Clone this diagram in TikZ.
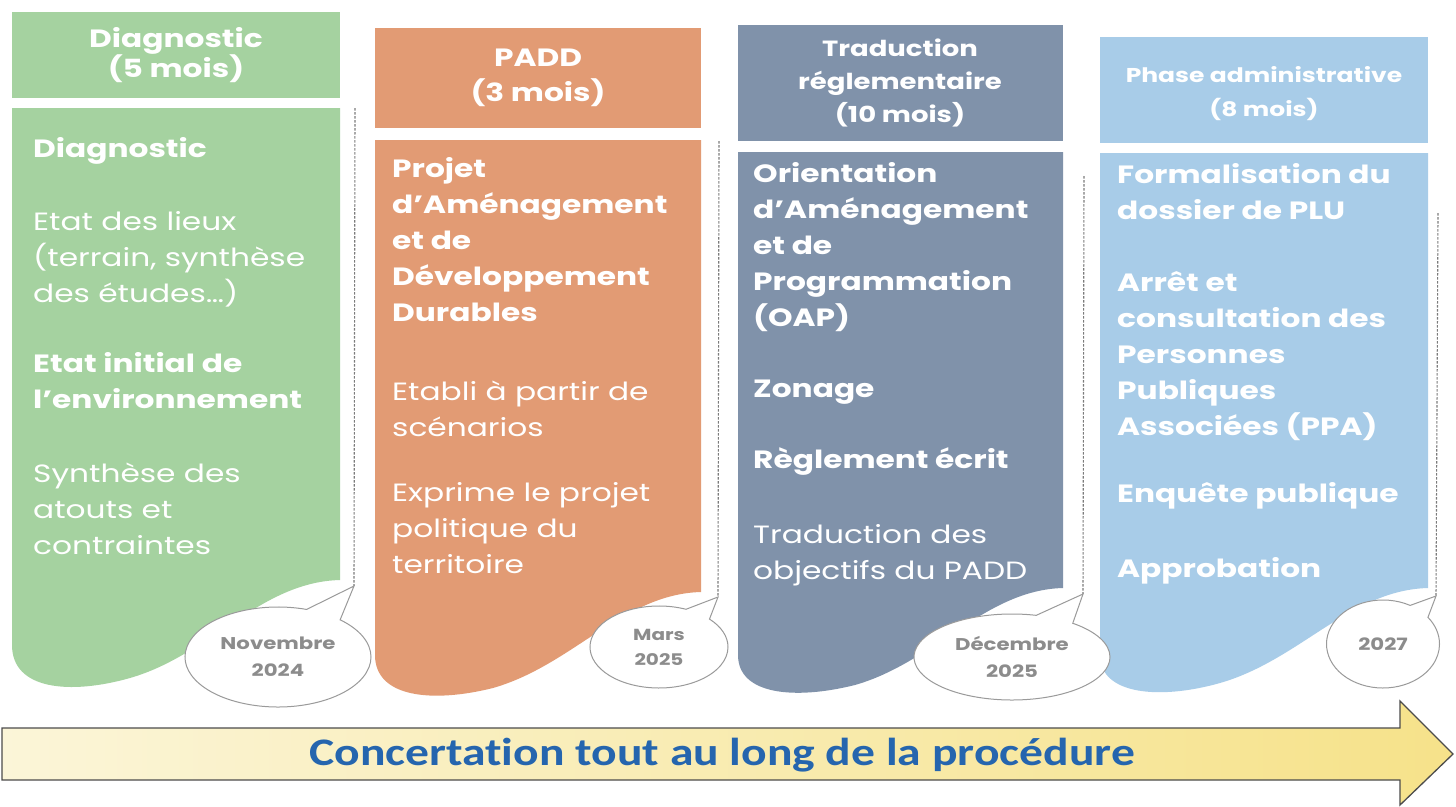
\documentclass[tikz,border=0pt]{standalone}
\usepackage{fontspec}
\setmainfont{Poppins}[FakeStretch=1.25]
\newfontfamily\arrowfont{Carlito}[FakeStretch=1.22, Ligatures=CommonOff]
\usetikzlibrary{shapes.callouts}

\definecolor{diagc}{HTML}{A5D2A0}
\definecolor{paddc}{HTML}{E29B74}
\definecolor{tradc}{HTML}{8092AA}
\definecolor{admc}{HTML}{A8CCE8}
\definecolor{datec}{HTML}{8C8C8C}
\definecolor{linec}{HTML}{9A9A9A}
\definecolor{concc}{HTML}{2565AE}
\definecolor{arrowl}{HTML}{FBF5D8}
\definecolor{arrowr}{HTML}{F6E28A}

\tikzset{
  hdr/.style={text=white, align=center, inner sep=0pt},
  item/.style={text=white, anchor=base west, align=left, inner sep=0pt,
    font=\fontsize{25}{36}\selectfont},
  itemb/.style={item, font=\fontsize{25}{36}\selectfont\bfseries},
  bubble/.style={ellipse callout, draw=linec, line width=1pt, fill=white,
    text=datec, align=center, inner sep=0pt, callout pointer arc=24,
    font=\fontsize{17}{27}\selectfont\bfseries},
  guide/.style={draw=linec!80!black, line width=1.1pt, dash pattern=on 2.5pt off 1.5pt}
}

\begin{document}
\begin{tikzpicture}[x=1pt,y=-1pt]
\useasboundingbox (0,0) rectangle (1456,806);
\fill[white] (0,0) rectangle (1456,806);

% column bodies
\fill[diagc] (12,108) -- (340,108) -- (340,580) .. controls (260,582) and (210,655) .. (130,678) .. controls (70,695) and (12,690) .. (12,645) -- cycle;
\fill[paddc] (375,140) -- (701,140) -- (701,592) .. controls (623,594) and (573,665) .. (493,688) .. controls (433,703) and (375,698) .. (375,655) -- cycle;
\fill[tradc] (738,152) -- (1063,152) -- (1063,588) .. controls (985,590) and (935,662) .. (855,685) .. controls (795,700) and (738,695) .. (738,655) -- cycle;
\fill[admc] (1100,153) -- (1428,153) -- (1428,588) .. controls (1350,590) and (1300,660) .. (1220,683) .. controls (1160,700) and (1100,695) .. (1100,655) -- cycle;

% headers
\node[hdr, fill=diagc, minimum width=328pt, minimum height=86pt, font=\fontsize{25}{29}\selectfont\bfseries] (hdiag) at (176,55) {Diagnostic\\(5 mois)};
\node[hdr, fill=paddc, minimum width=326pt, minimum height=100pt, font=\fontsize{25}{35}\selectfont\bfseries] (hpadd) at (538,78) {PADD\\(3 mois)};
\node[hdr, fill=tradc, minimum width=325pt, minimum height=116pt, font=\fontsize{22}{33}\selectfont\bfseries] (htrad) at (900,83) {Traduction\\réglementaire\\(10 mois)};
\node[hdr, fill=admc, minimum width=328pt, minimum height=106pt] (hadm) at (1264,90) {};
\node[hdr, font=\fontsize{20}{34}\selectfont\bfseries] (hadmt) at (1264,94) {Phase administrative\\(8 mois)};

% Diagnostic (y = baseline of the last line)
\node[itemb] (diag1) at (33,157) {Diagnostic};
\node[item] (diag2) at (33,302) {Etat des lieux\\(terrain, synthèse\\des études…)};
\node[itemb] (diag3) at (33,408) {Etat initial de\\l’environnement};
\node[item] (diag4) at (33,554) {Synthèse des\\atouts et\\contraintes};

% PADD
\node[itemb] (padd1) at (392,321) {Projet\\d’Aménagement\\et de\\Développement\\Durables};
\node[item] (padd2) at (392,436) {Etabli à partir de\\scénarios};
\node[item] (padd3) at (392,573) {Exprime le projet\\politique du\\territoire};

% Traduction reglementaire
\node[itemb] (trad1) at (753,326) {Orientation\\d’Aménagement\\et de\\Programmation\\(OAP)};
\node[itemb] (trad2) at (753,397) {Zonage};
\node[itemb] (trad3) at (753,468) {Règlement écrit};
\node[item] (trad4) at (753,579) {Traduction des\\objectifs du PADD};

% Phase administrative
\node[itemb] (adm1) at (1117,219) {Formalisation du\\dossier de PLU};
\node[itemb] (adm2) at (1117,435) {Arrêt et\\consultation des\\Personnes\\Publiques\\Associées (PPA)};
\node[itemb] (adm3) at (1117,502) {Enquête publique};
\node[itemb] (adm4) at (1117,577) {Approbation};

% dotted guides and date bubbles
\coordinate (g1top) at (355,108);
\coordinate (g1bot) at (354,586);
\coordinate (g2top) at (719,141);
\coordinate (g2bot) at (718,597);
\coordinate (g3top) at (1084,176);
\coordinate (g3bot) at (1083,594);
\coordinate (g4top) at (1438,213);
\coordinate (g4bot) at (1436,596);
\draw[guide] (g1top) -- (g1bot);
\draw[guide] (g2top) -- (g2bot);
\draw[guide] (g3top) -- (g3bot);
\draw[guide] (g4top) -- (g4bot);

\node[bubble, minimum width=186pt, minimum height=100pt, callout absolute pointer={(g1bot)}] (bnov) at (278,657) {Novembre\\2024};
\node[bubble, minimum width=138pt, minimum height=82pt, callout absolute pointer={(g2bot)}, font=\fontsize{16}{25}\selectfont\bfseries] (bmars) at (659,647) {Mars\\2025};
\node[bubble, minimum width=196pt, minimum height=86pt, callout absolute pointer={(g3bot)}] (bdec) at (1012,657) {Décembre\\2025};
\node[bubble, minimum width=113pt, minimum height=88pt, callout absolute pointer={(g4bot)}] (b2027) at (1383,644) {2027};

% concertation arrow
\draw[line width=1.3pt, draw=black!70, left color=arrowl, right color=arrowr] (2,728) -- (1400,728) -- (1400,701) -- (1453,754) -- (1400,805) -- (1400,780) -- (2,780) -- cycle;
\node[text=concc, font=\arrowfont\fontsize{39}{44}\selectfont\bfseries] (concert) at (722,755) {Concertation tout au long de la procédure};
\end{tikzpicture}
\end{document}
